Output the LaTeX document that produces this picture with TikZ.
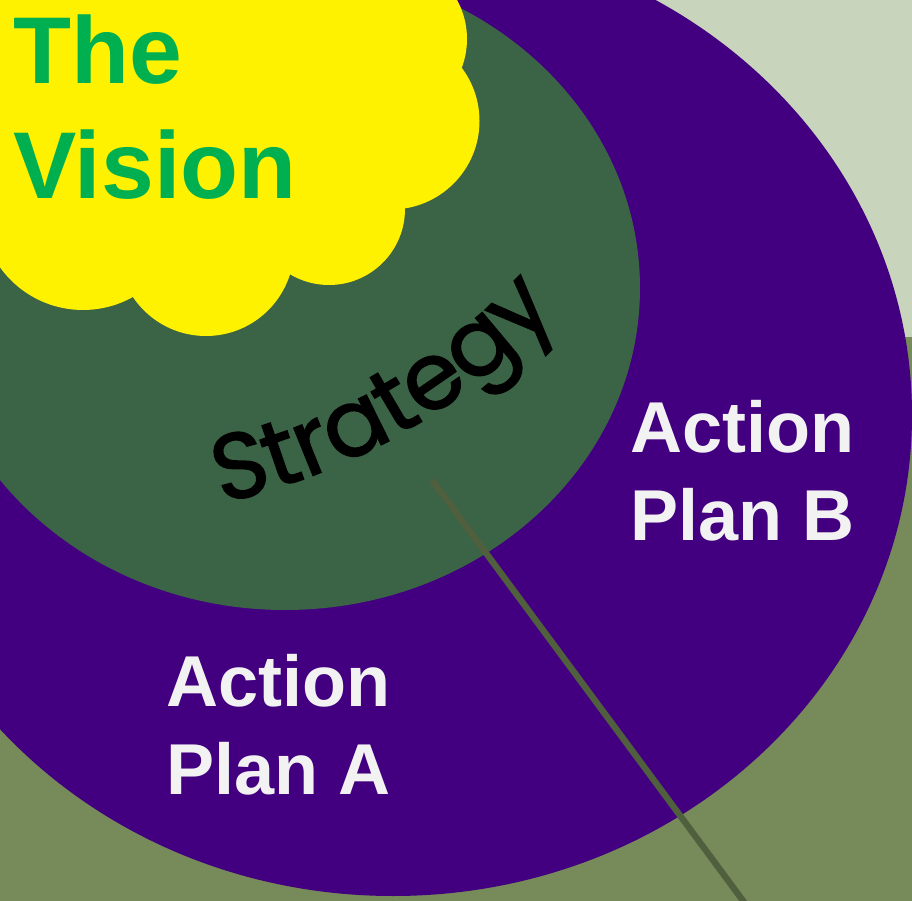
\documentclass[tikz,border=0pt]{standalone}
\usepackage{fontspec}
\usetikzlibrary{decorations.text}
\newfontfamily\arialfont{Liberation Sans}
\newfontfamily\handfont{Poppins}[FakeBold=1.6]
\definecolor{lightbg}{HTML}{C8D4BC}
\definecolor{olivebg}{HTML}{778B5A}
\definecolor{actionpurple}{HTML}{420080}
\definecolor{strategygreen}{HTML}{3B6345}
\definecolor{visiongreen}{HTML}{00B050}
\definecolor{planwhite}{HTML}{F2F2F2}
\definecolor{pointergreen}{HTML}{505F3D}
\begin{document}
\begin{tikzpicture}[x=0.2mm,y=-0.2mm,
  plan/.style={font=\arialfont\bfseries\fontsize{41}{50}\selectfont,text=planwhite,align=left,anchor=west,inner sep=0pt},
  pointer/.style={draw=pointergreen,line width=3.6pt}]
  \useasboundingbox (0,0) rectangle (912,901);
  \clip (0,0) rectangle (912,901);
  \fill[olivebg] (0,0) rectangle (912,901);
  \fill[lightbg] (0,0) rectangle (912,337);
  \fill[actionpurple] (393,415) ellipse [x radius=519,y radius=481];
  \fill[strategygreen] (285,288) ellipse [x radius=355,y radius=322];
  % the cloud
  \fill[yellow] (-5,-5) -- (445,-5) -- (386,39) -- (391,121) -- (329,209) -- (206,248) -- (83,208) -- (-5,208) -- cycle;
  \foreach \cx/\cy/\r in {386/39/81,391/121/88.5,329/209/76,206/248/88,83/208/102}
    \fill[yellow] (\cx,\cy) circle [radius=\r];
  \node[font=\arialfont\bfseries\fontsize{54}{65.8}\selectfont,text=visiongreen,align=left,anchor=west,inner sep=0pt] (vision) at (13,107) {The\\Vision};
  \coordinate (arcC) at (79,-131);
  \path[decorate,decoration={text along path,text align=center,
      text={|\handfont\fontsize{53}{60}\selectfont|Strategy}}]
    (arcC) ++(0,650) arc [start angle=270,end angle=330,radius=130mm];
  \coordinate (pin) at (432,480);
  \coordinate (tail) at (758,921);
  \draw[pointer] (pin) -- (tail);
  \node[plan] (planB) at (630,471) {Action\\Plan B};
  \node[plan] (planA) at (166,725) {Action\\Plan A};
\end{tikzpicture}
\end{document}
